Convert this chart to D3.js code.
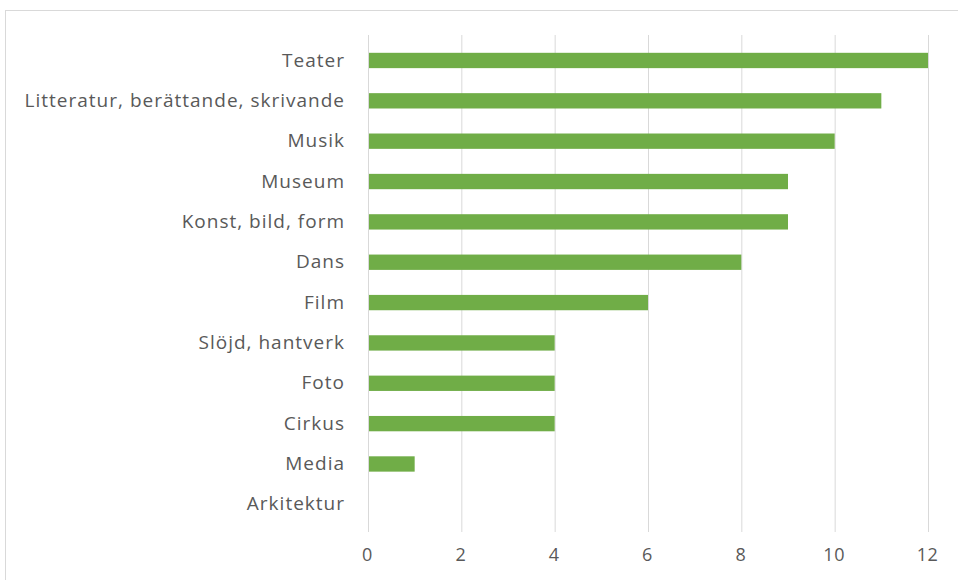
<!DOCTYPE html>
<html><head><meta charset="utf-8">
<script src="https://cdn.jsdelivr.net/npm/d3@7"></script>
<style>body{margin:0;background:#fff}svg{display:block}</style>
</head><body>
<script>
const categories = ["Teater","Litteratur, berättande, skrivande","Musik","Museum","Konst, bild, form","Dans","Film","Slöjd, hantverk","Foto","Cirkus","Media","Arkitektur"];
const values = [12,11,10,9,9,8,6,4,4,4,1,0];
const ticks = [0,2,4,6,8,10,12];

const W=958,H=580;
const svg=d3.select("body").append("svg").attr("width",W).attr("height",H);
svg.append("rect").attr("x",5.5).attr("y",10.5).attr("width",W).attr("height",H).attr("fill","#fff").attr("stroke","#d9d9d9");

const x=d3.scaleLinear().domain([0,12]).range([368,928]);
const y=d3.scaleBand().domain(categories).range([40.3,524.5]).paddingInner(0.62).paddingOuter(0.31);

const font="'Open Sans', 'Noto Sans', sans-serif";
svg.append("g").selectAll("line").data(ticks).join("line")
  .attr("x1",d=>x(d)+0.5).attr("x2",d=>x(d)+0.5).attr("y1",35).attr("y2",532)
  .attr("stroke","#d9d9d9").attr("stroke-width",1);

svg.append("g").selectAll("rect").data(values).join("rect")
  .attr("x",x(0)+1).attr("y",(d,i)=>y(categories[i]))
  .attr("width",d=>Math.max(0,x(d)-x(0)-1)).attr("height",y.bandwidth())
  .attr("fill","#70ad47");

const xAxis=d3.axisBottom(x).tickValues(ticks).tickSize(0).tickPadding(0);
const gx=svg.append("g").attr("transform","translate(-1,548)").call(xAxis);
gx.select(".domain").remove();
gx.selectAll("text").attr("font-family",font).attr("font-size",18).attr("fill","#595959").attr("dy","0.71em").attr("letter-spacing",0.5);

const yAxis=d3.axisLeft(y).tickSize(0).tickPadding(0);
const gy=svg.append("g").attr("transform","translate(345,0)").call(yAxis);
gy.select(".domain").remove();
gy.selectAll("text").attr("font-family",font).attr("font-size",19).attr("fill","#595959").attr("letter-spacing",1);
</script>
</body></html>
